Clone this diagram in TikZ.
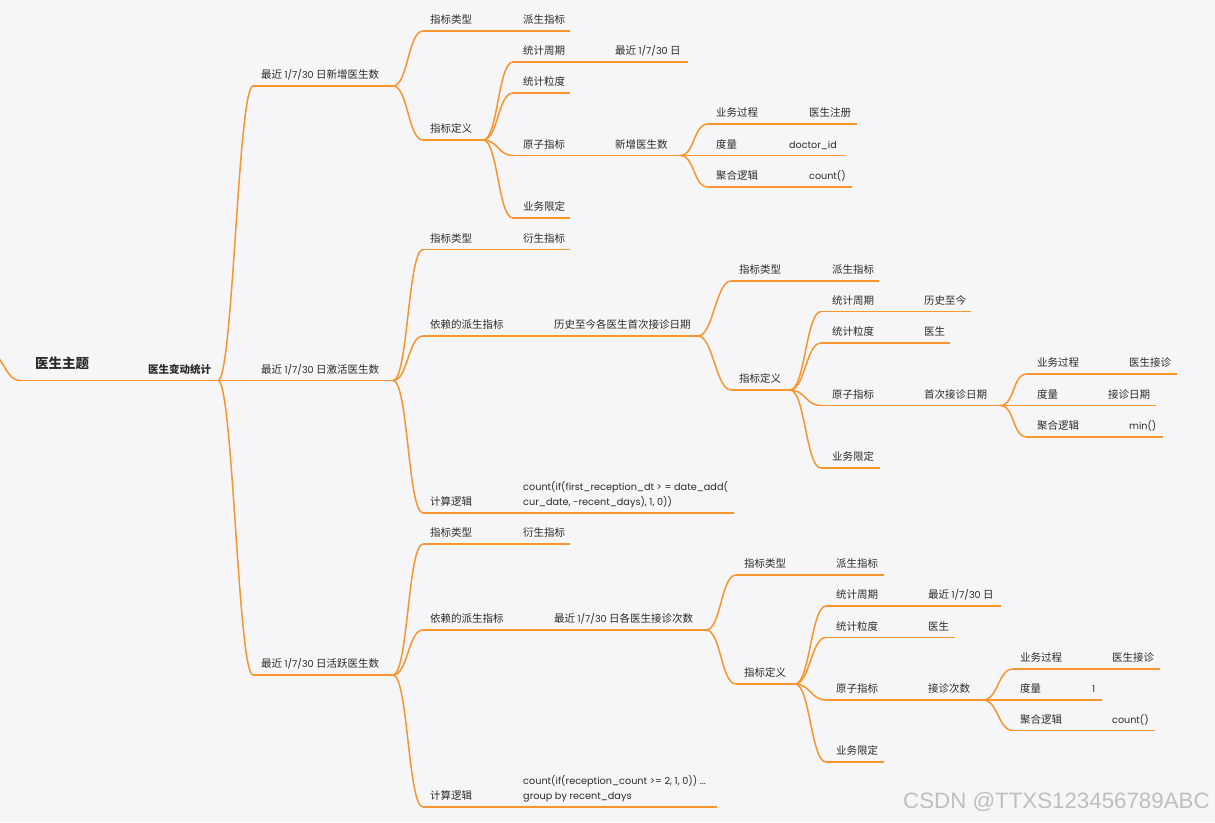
\documentclass[tikz,border=0pt]{standalone}
\usepackage{fontspec}
\setmainfont{Noto Sans CJK SC}
\newfontfamily\latfont{Poppins}
\newfontfamily\wmfont{Liberation Sans}
\newcommand\mmlat[1]{{\fontsize{9.6}{12}\latfont #1}}
\definecolor{brc}{HTML}{F7962F}
\definecolor{bgc}{HTML}{F6F6F8}
\definecolor{txc}{HTML}{2B2B2B}
\pgfdeclarelayer{bglayer}
\pgfdeclarelayer{lines}
\pgfsetlayers{bglayer,lines,main}
\tikzset{
  br/.style={draw=brc, line width=1.5pt, line cap=butt},
  lbl/.style={anchor=base west, inner sep=0pt, text=txc, font=\fontsize{10.5}{13}\selectfont},
  code/.style={anchor=west, inner sep=0pt, text=txc, align=left, font=\fontsize{9.7}{15}\latfont},
}
\newcommand\mmtopic[6]{%
  \coordinate (#1s) at (#2,#4);
  \coordinate (#1e) at (#3,#4);
  \begin{pgfonlayer}{lines}\draw[br] (#1s) -- (#1e);\end{pgfonlayer}
  \node[lbl] (#1) at (#5,{#4-7.5}) {#6};
}
\newcommand\mmlink[2]{\begin{pgfonlayer}{lines}\draw[br] (#1e) .. controls +(15,0) and +(-15,0) .. (#2s);\end{pgfonlayer}}
\newcommand\mmchain[2]{\begin{pgfonlayer}{lines}\draw[br] (#1s) -- (#1e) -- (#2s) -- (#2e);\end{pgfonlayer}}
\begin{document}
\begin{tikzpicture}[x=1pt,y=-1pt]
\begin{pgfonlayer}{bglayer}
\fill[bgc] (0,0) rectangle (1215,822);
\end{pgfonlayer}
\useasboundingbox (0,0) rectangle (1215,822);

% root
\coordinate (off) at (-12,352);
\coordinate (Rs) at (20,380.5);
\coordinate (Re) at (140,380.5);
\begin{pgfonlayer}{lines}
\draw[br] (Rs) -- (Re);
\draw[br] (off) .. controls +(15,0) and +(-15,0) .. (Rs);
\end{pgfonlayer}
\node[lbl, font=\fontsize{13.5}{16}\selectfont\bfseries] (R) at (35,368) {医生主题};
\mmtopic{A}{140}{218}{380.5}{148}{\bfseries 医生变动统计}
\mmchain{R}{A}

% level 1
\mmtopic{Ba}{253}{393}{86}{261}{最近 \mmlat{1/7/30} 日新增医生数}
\mmtopic{Bb}{253}{393}{380.5}{261}{最近 \mmlat{1/7/30} 日激活医生数}
\mmtopic{Bc}{253}{393}{675}{261}{最近 \mmlat{1/7/30} 日活跃医生数}
\mmlink{A}{Ba}\mmlink{A}{Bb}\mmlink{A}{Bc}

% ===== branch a
\mmtopic{Ca1}{423}{513}{31}{430}{指标类型}
\mmtopic{Ca1v}{513}{570}{31}{523}{派生指标}
\mmtopic{Ca2}{423}{483}{140}{430}{指标定义}
\mmtopic{Da1}{513}{605}{62}{523}{统计周期}
\mmtopic{Da1v}{605}{688}{62}{615}{最近 \mmlat{1/7/30} 日}
\mmtopic{Da2}{513}{570}{93}{523}{统计粒度}
\mmtopic{Da3}{513}{605}{155.5}{523}{原子指标}
\mmtopic{Da3v}{605}{680}{155.5}{615}{新增医生数}
\mmtopic{Ea1}{708}{800}{124}{716}{业务过程}
\mmtopic{Ea1v}{800}{857}{124}{809}{医生注册}
\mmtopic{Ea2}{708}{780}{155.5}{716}{度量}
\mmtopic{Ea2v}{780}{845}{155.5}{789}{\mmlat{doctor\_id}}
\mmtopic{Ea3}{708}{800}{187}{716}{聚合逻辑}
\mmtopic{Ea3v}{800}{852}{187}{809}{\mmlat{count()}}
\mmtopic{Da4}{513}{570}{218}{523}{业务限定}
\mmlink{Ba}{Ca1}\mmchain{Ca1}{Ca1v}
\mmlink{Ba}{Ca2}
\mmlink{Ca2}{Da1}\mmchain{Da1}{Da1v}
\mmlink{Ca2}{Da2}
\mmlink{Ca2}{Da3}\mmchain{Da3}{Da3v}
\mmlink{Ca2}{Da4}
\mmlink{Da3v}{Ea1}\mmchain{Ea1}{Ea1v}
\mmlink{Da3v}{Ea2}\mmchain{Ea2}{Ea2v}
\mmlink{Da3v}{Ea3}\mmchain{Ea3}{Ea3v}

% ===== branch b
\mmtopic{Cb1}{423}{513}{249.5}{430}{指标类型}
\mmtopic{Cb1v}{513}{570}{249.5}{523}{衍生指标}
\mmtopic{Cb2}{423}{545}{336}{430}{依赖的派生指标}
\mmtopic{Cb2v}{545}{698}{336}{554}{历史至今各医生首次接诊日期}
\mmtopic{Fb1}{731}{823}{281}{739}{指标类型}
\mmtopic{Fb1v}{823}{879}{281}{832}{派生指标}
\mmtopic{Fb2}{731}{790}{390}{739}{指标定义}
\mmtopic{Gb1}{821}{915}{311.5}{832}{统计周期}
\mmtopic{Gb1v}{915}{971}{311.5}{924}{历史至今}
\mmtopic{Gb2}{821}{915}{343}{832}{统计粒度}
\mmtopic{Gb2v}{915}{950}{343}{924}{医生}
\mmtopic{Gb3}{821}{915}{405.5}{832}{原子指标}
\mmtopic{Gb3v}{915}{1000}{405.5}{924}{首次接诊日期}
\mmtopic{Hb1}{1027}{1120}{374}{1037}{业务过程}
\mmtopic{Hb1v}{1120}{1177}{374}{1129}{医生接诊}
\mmtopic{Hb2}{1027}{1100}{405.5}{1037}{度量}
\mmtopic{Hb2v}{1100}{1156}{405.5}{1108}{接诊日期}
\mmtopic{Hb3}{1027}{1120}{437}{1037}{聚合逻辑}
\mmtopic{Hb3v}{1120}{1163}{437}{1129}{\mmlat{min()}}
\mmtopic{Gb4}{821}{880}{468}{832}{业务限定}
\mmtopic{Cb3}{423}{513}{513}{430}{计算逻辑}
\coordinate (Cb3vs) at (513,513);
\coordinate (Cb3ve) at (734,513);
\begin{pgfonlayer}{lines}\draw[br] (Cb3vs) -- (Cb3ve);\end{pgfonlayer}
\node[code] (Cb3v) at (523,495) {count(if(first\_reception\_dt > = date\_add(\\cur\_date, -recent\_days), 1, 0))};
\mmlink{Bb}{Cb1}\mmchain{Cb1}{Cb1v}
\mmlink{Bb}{Cb2}\mmchain{Cb2}{Cb2v}
\mmlink{Bb}{Cb3}\mmchain{Cb3}{Cb3v}
\mmlink{Cb2v}{Fb1}\mmchain{Fb1}{Fb1v}
\mmlink{Cb2v}{Fb2}
\mmlink{Fb2}{Gb1}\mmchain{Gb1}{Gb1v}
\mmlink{Fb2}{Gb2}\mmchain{Gb2}{Gb2v}
\mmlink{Fb2}{Gb3}\mmchain{Gb3}{Gb3v}
\mmlink{Fb2}{Gb4}
\mmlink{Gb3v}{Hb1}\mmchain{Hb1}{Hb1v}
\mmlink{Gb3v}{Hb2}\mmchain{Hb2}{Hb2v}
\mmlink{Gb3v}{Hb3}\mmchain{Hb3}{Hb3v}

% ===== branch c
\mmtopic{Cc1}{423}{513}{544}{430}{指标类型}
\mmtopic{Cc1v}{513}{570}{544}{523}{衍生指标}
\mmtopic{Cc2}{423}{545}{630}{430}{依赖的派生指标}
\mmtopic{Cc2v}{545}{706}{630}{554}{最近 \mmlat{1/7/30} 日各医生接诊次数}
\mmtopic{Kc1}{736}{828}{575}{744}{指标类型}
\mmtopic{Kc1v}{828}{884}{575}{836}{派生指标}
\mmtopic{Kc2}{736}{795}{684}{744}{指标定义}
\mmtopic{Lc1}{826}{920}{606}{836}{统计周期}
\mmtopic{Lc1v}{920}{1001}{606}{928}{最近 \mmlat{1/7/30} 日}
\mmtopic{Lc2}{826}{920}{637.5}{836}{统计粒度}
\mmtopic{Lc2v}{920}{955}{637.5}{928}{医生}
\mmtopic{Lc3}{826}{920}{700}{836}{原子指标}
\mmtopic{Lc3v}{920}{983}{700}{928}{接诊次数}
\mmtopic{Mc1}{1013}{1104}{669}{1020}{业务过程}
\mmtopic{Mc1v}{1104}{1160}{669}{1112}{医生接诊}
\mmtopic{Mc2}{1013}{1084}{700}{1020}{度量}
\mmtopic{Mc2v}{1084}{1102}{700}{1092}{\mmlat{1}}
\mmtopic{Mc3}{1013}{1104}{730.5}{1020}{聚合逻辑}
\mmtopic{Mc3v}{1104}{1155}{730.5}{1112}{\mmlat{count()}}
\mmtopic{Lc4}{826}{884}{762}{836}{业务限定}
\mmtopic{Cc3}{423}{513}{807}{430}{计算逻辑}
\coordinate (Cc3vs) at (513,807);
\coordinate (Cc3ve) at (717,807);
\begin{pgfonlayer}{lines}\draw[br] (Cc3vs) -- (Cc3ve);\end{pgfonlayer}
\node[code] (Cc3v) at (523,789) {count(if(reception\_count >= 2, 1, 0)) ...\\group by recent\_days};
\mmlink{Bc}{Cc1}\mmchain{Cc1}{Cc1v}
\mmlink{Bc}{Cc2}\mmchain{Cc2}{Cc2v}
\mmlink{Bc}{Cc3}\mmchain{Cc3}{Cc3v}
\mmlink{Cc2v}{Kc1}\mmchain{Kc1}{Kc1v}
\mmlink{Cc2v}{Kc2}
\mmlink{Kc2}{Lc1}\mmchain{Lc1}{Lc1v}
\mmlink{Kc2}{Lc2}\mmchain{Lc2}{Lc2v}
\mmlink{Kc2}{Lc3}\mmchain{Lc3}{Lc3v}
\mmlink{Kc2}{Lc4}
\mmlink{Lc3v}{Mc1}\mmchain{Mc1}{Mc1v}
\mmlink{Lc3v}{Mc2}\mmchain{Mc2}{Mc2v}
\mmlink{Lc3v}{Mc3}\mmchain{Mc3}{Mc3v}

% watermark
\node[anchor=base west, inner sep=0pt, text=black!25, font=\fontsize{22.3}{24}\wmfont] (wm) at (903,808.5) {CSDN @TTXS123456789ABC};
\end{tikzpicture}
\end{document}
